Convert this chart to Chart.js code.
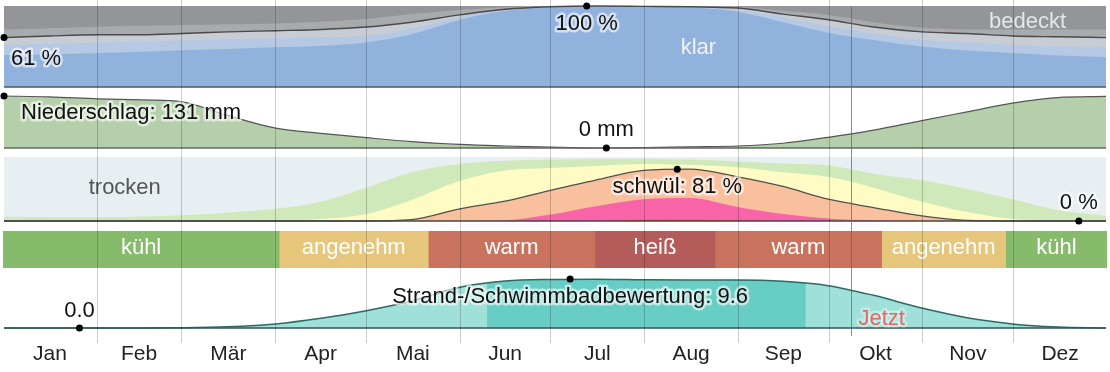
<!DOCTYPE html>
<html>
<head>
<meta charset="utf-8">
<script src="https://cdn.jsdelivr.net/npm/chart.js@4/dist/chart.umd.min.js"></script>
<style>
  html, body { margin: 0; padding: 0; background: #fff; }
  #wrap { position: relative; width: 1110px; height: 372px; overflow: hidden; }
  #wrap canvas { position: absolute; left: 0; }
</style>
</head>
<body>
<div id="wrap">
  <canvas id="cloud" width="1110" height="95" style="top:0px"></canvas>
  <canvas id="rain" width="1110" height="66" style="top:88px"></canvas>
  <canvas id="humid" width="1110" height="80" style="top:150px"></canvas>
  <canvas id="temp" width="1110" height="37" style="top:231px"></canvas>
  <canvas id="beach" width="1110" height="66" style="top:268px"></canvas>
  <canvas id="axis" width="1110" height="372" style="top:0px"></canvas>
</div>
<script>
const months = ["Jan", "Feb", "Mär", "Apr", "Mai", "Jun", "Jul", "Aug", "Sep", "Okt", "Nov", "Dez"];
const monthStarts = [0, 31, 59, 90, 120, 151, 181, 212, 243, 273, 304, 334, 365];
const sampleDays = [0, 15, 31, 46, 59, 74, 90, 105, 120, 135, 151, 166, 181, 196, 212, 227, 243, 258, 273, 288, 304, 319, 334, 349, 365];

// Bewölkung: kumulierte Anteile in % von unten
const cloudClear        = [39.5, 40.5, 42, 43.5, 45.5, 47, 49, 51, 55, 65, 83, 94, 98, 99, 99, 98, 93, 80, 67, 58, 50, 45, 42, 39, 37];
const cloudMostlyClear  = [52, 53, 55, 56, 57.5, 58.5, 60, 61.5, 63, 72, 86, 96, 99, 99.5, 99.5, 99, 95.5, 86, 75, 66, 58, 55, 52, 50, 49];
const cloudPartly       = [61, 63, 64.5, 64.5, 66, 68, 69.5, 71, 74, 80, 89, 96, 99, 100, 99.5, 99, 97.5, 90, 83, 74, 68, 66, 63, 62, 61];
const cloudMostlyCloudy = [71, 72.5, 74.5, 75.5, 76.5, 77.5, 78.5, 80.5, 84, 90, 95, 98.5, 100, 100, 100, 100, 99, 94, 89, 80, 73, 71, 71, 71, 71];
const cloudMarkDays = [0, 193];
const cloudMarkValues = [61, 100];

// Niederschlag in mm
const rainMm = [131, 129, 124, 121, 116, 82, 50, 37, 26, 16, 9, 5, 2, 0, 1, 3, 5, 12, 27, 45, 69, 91, 113, 127, 130];
const rainMarkDays = [0, 199.5];
const rainMarkValues = [131, 0];

// Schwüle: kumulierte Anteile in % von unten
const humidComfortable = [7, 6, 6, 7, 9, 13, 19, 30, 52, 76, 89, 94, 96, 97, 97, 96, 93, 90, 87, 74, 64, 50, 34, 17, 8];
const humidHumid       = [0, 0, 0, 0, 0, 0, 0.5, 3, 11, 33, 63, 79, 83, 86, 89, 88, 84, 76, 69, 52, 30, 14, 3, 0.5, 0];
const humidMuggy       = [0, 0, 0, 0, 0, 0, 0, 0, 0, 2, 19, 31, 48, 64, 79, 81, 69, 54, 34, 21, 8, 1, 0, 0, 0];
const humidOppressive  = [0, 0, 0, 0, 0, 0, 0, 0, 0, 0, 0, 1, 10, 23, 34, 36, 22, 11, 4, 1, 0, 0, 0, 0, 0];
const humidMiserable   = [0, 0, 0, 0, 0, 0, 0, 0, 0, 0, 0, 0, 0, 0, 2, 2, 1, 0, 0, 0, 0, 0, 0, 0, 0];
const muggyMarkDays = [223, 356];
const muggyMarkValues = [81, 0];

// Temperaturbänder
const tempNames = ["kühl", "angenehm", "warm", "heiß", "warm", "angenehm", "kühl"];
const tempBreaks = [0, 91.3, 140.6, 195.7, 235.4, 290.5, 331.5, 365];

// Strand-/Schwimmbadbewertung
const beachScore = [0, 0, 0, 0, 0.05, 0.25, 0.8, 1.9, 3.4, 5.3, 8.0, 9.2, 9.5, 9.55, 9.45, 9.4, 9.4, 9.15, 8.3, 6.4, 3.9, 2.0, 0.8, 0.2, 0];
const beachBest = [160, 265.5];
const beachMarkDays = [25, 187.5];
const beachMarkValues = [0, 9.6];

const nowDay = 280.5;

// styles
const FONT = '"Liberation Sans", Arial, sans-serif';
const cloudColors = { overcast: "#949599", mostlyCloudy: "#a8aaad", partly: "#c7ccd5", mostlyClear: "#b5c8e4", clear: "#92b2de", line: "#4a4a4a" };
const humidColors = { dry: "#e8eff3", comfortable: "#cfe9ba", humid: "#fffbc4", muggy: "#f9c09e", oppressive: "#f964a9", miserable: "#e5472c", line: "#505050" };
const tempColors = ["#87bb6c", "#e6c67a", "#c9735f", "#b45c59", "#c9735f", "#e6c67a", "#87bb6c"];
const HALO = "rgba(255,255,255,0.6)";

Chart.defaults.font.family = FONT;

const pts = (days, vals) => days.map((d, i) => ({ x: d, y: vals[i] }));

const fillSet = (vals, color) => ({
  data: pts(sampleDays, vals), backgroundColor: color, borderWidth: 0,
  fill: "origin", pointRadius: 0, clip: false
});
const lineSet = (vals, color, width) => ({
  data: pts(sampleDays, vals), borderColor: color, borderWidth: width,
  fill: false, pointRadius: 0, clip: false
});
const markSet = (days, vals) => ({
  data: pts(days, vals), showLine: false, pointRadius: 3.5,
  pointBackgroundColor: "#000", pointBorderWidth: 0, clip: false
});

function drawText(ctx, text, x, y, o) {
  ctx.save();
  ctx.font = (o.size || 22) + "px " + FONT;
  ctx.textAlign = o.align || "center";
  ctx.textBaseline = "middle";
  if (o.halo) {
    ctx.lineJoin = "round";
    ctx.lineWidth = 5;
    ctx.strokeStyle = o.halo;
    ctx.strokeText(text, x, y);
  }
  ctx.fillStyle = o.color || "#111";
  ctx.fillText(text, x, y);
  ctx.restore();
}

const decor = extra => ({
  id: "decor",
  beforeDatasetsDraw(chart) {
    if (!extra.background) return;
    const a = chart.chartArea;
    chart.ctx.save();
    chart.ctx.fillStyle = extra.background;
    chart.ctx.fillRect(a.left, a.top, a.right - a.left, a.bottom - a.top);
    chart.ctx.restore();
  },
  beforeDatasetDraw(chart, args) {
    if (args.index !== 0 || !extra.baseline) return;
    const a = chart.chartArea, y = chart.scales.y.getPixelForValue(0);
    const ctx = chart.ctx;
    ctx.save();
    ctx.strokeStyle = extra.baseline;
    ctx.lineWidth = 1.5;
    ctx.beginPath();
    ctx.moveTo(a.left, y);
    ctx.lineTo(a.right, y);
    ctx.stroke();
    ctx.restore();
  },
  afterDatasetDraw(chart, args) {
    if (extra.onDataset) extra.onDataset(chart, args);
  },
  afterDraw(chart) {
    const { x, y } = chart.scales;
    (extra.labels || []).forEach(l => {
      drawText(chart.ctx, l.text, x.getPixelForValue(l.day) + (l.dx || 0), y.getPixelForValue(l.value) + (l.dy || 0), l);
    });
  }
});

function panel(id, yMax, padTop, padBottom, datasets, extra) {
  return new Chart(document.getElementById(id), {
    type: "line",
    data: { datasets },
    options: {
      responsive: false, animation: false, devicePixelRatio: 1,
      layout: { padding: { left: 3, right: 3, top: padTop, bottom: padBottom } },
      plugins: { legend: { display: false }, tooltip: { enabled: false } },
      elements: { line: { cubicInterpolationMode: "monotone" } },
      scales: {
        x: { type: "linear", min: 0, max: 365, display: false },
        y: { min: 0, max: yMax, display: false }
      }
    },
    plugins: [decor(extra)]
  });
}

// Bewölkung
panel("cloud", 100, 6, 8, [
  markSet(cloudMarkDays, cloudMarkValues),
  lineSet(cloudPartly, cloudColors.line, 1.4),
  fillSet(cloudClear, cloudColors.clear),
  fillSet(cloudMostlyClear, cloudColors.mostlyClear),
  fillSet(cloudPartly, cloudColors.partly),
  fillSet(cloudMostlyCloudy, cloudColors.mostlyCloudy)
], {
  background: cloudColors.overcast,
  baseline: "#4d5a68",
  labels: [
    { text: "61 %", day: cloudMarkDays[0], value: cloudMarkValues[0], dx: 7, dy: 21, align: "left", halo: HALO },
    { text: "100 %", day: cloudMarkDays[1], value: cloudMarkValues[1], dy: 18, halo: HALO },
    { text: "klar", day: 230, value: 48, color: "#eef3fa" },
    { text: "bedeckt", day: 339, value: 80, color: "#e6e6e6" }
  ]
});

// Niederschlag
panel("rain", 131, 8, 6, [
  markSet(rainMarkDays, rainMarkValues),
  Object.assign(fillSet(rainMm, "#b4cfa9"), { borderColor: "#555", borderWidth: 1.2 })
], {
  baseline: "#666",
  labels: [
    { text: "Niederschlag: 131 mm", day: rainMarkDays[0], value: rainMarkValues[0], dx: 17, dy: 17, align: "left", halo: HALO },
    { text: "0 mm", day: rainMarkDays[1], value: rainMarkValues[1], dy: -18, halo: HALO }
  ]
});

// Schwüle
panel("humid", 100, 7, 9, [
  markSet(muggyMarkDays, muggyMarkValues),
  lineSet(humidMuggy, humidColors.line, 1.3),
  fillSet(humidMiserable, humidColors.miserable),
  fillSet(humidOppressive, humidColors.oppressive),
  fillSet(humidMuggy, humidColors.muggy),
  fillSet(humidHumid, humidColors.humid),
  fillSet(humidComfortable, humidColors.comfortable)
], {
  background: humidColors.dry,
  baseline: "#444",
  labels: [
    { text: "trocken", day: 40, value: 52, color: "#555" },
    { text: "schwül: 81 %", day: muggyMarkDays[0], value: muggyMarkValues[0], dy: 18, halo: HALO },
    { text: "0 %", day: muggyMarkDays[1], value: muggyMarkValues[1], dy: -18, halo: HALO }
  ]
});

// Temperaturbänder
new Chart(document.getElementById("temp"), {
  type: "bar",
  data: {
    labels: ["T"],
    datasets: tempNames.map((name, i) => ({
      label: name,
      data: [[tempBreaks[i], tempBreaks[i + 1]]],
      backgroundColor: tempColors[i],
      borderWidth: 0, grouped: false, barPercentage: 1, categoryPercentage: 1
    }))
  },
  options: {
    indexAxis: "y",
    responsive: false, animation: false, devicePixelRatio: 1,
    layout: { padding: { left: 3, right: 3, top: 0, bottom: 0 } },
    plugins: { legend: { display: false }, tooltip: { enabled: false } },
    scales: {
      x: { type: "linear", min: 0, max: 365, display: false },
      y: { display: false }
    }
  },
  plugins: [{
    id: "bandText",
    afterDatasetsDraw(chart) {
      chart.data.datasets.forEach((ds, i) => {
        const bar = chart.getDatasetMeta(i).data[0];
        drawText(chart.ctx, ds.label, (bar.x + bar.base) / 2, bar.y - 2, { color: "#fff" });
      });
    }
  }]
});

// Strand-/Schwimmbadbewertung
panel("beach", 9.6, 11, 6, [
  markSet(beachMarkDays, beachMarkValues),
  lineSet(beachScore, "#2e6a65", 1.5),
  fillSet(beachScore, "#68cdc5"),
  fillSet(beachScore, "#9fe0d8")
], {
  baseline: "#2f5854",
  onDataset(chart, args) {
    const ctx = chart.ctx;
    if (args.index === 3) {
      const x = chart.scales.x;
      const a = chart.chartArea;
      const x0 = x.getPixelForValue(beachBest[0]), x1 = x.getPixelForValue(beachBest[1]);
      ctx.save();
      ctx.beginPath();
      ctx.rect(x0, a.top - 5, x1 - x0, a.bottom - a.top + 10);
      ctx.clip();
    } else if (args.index === 2) {
      ctx.restore();
    }
  },
  labels: [
    { text: "0.0", day: beachMarkDays[0], value: beachMarkValues[0], dy: -17, halo: HALO },
    { text: "Strand-/Schwimmbadbewertung: 9.6", day: beachMarkDays[1], value: beachMarkValues[1], dy: 18, halo: HALO }
  ]
});

// Monatsachse, Gitterlinien und "Jetzt"
new Chart(document.getElementById("axis"), {
  type: "line",
  data: { datasets: [] },
  options: {
    responsive: false, animation: false, devicePixelRatio: 1,
    layout: { padding: { left: 3, right: 3, top: 0, bottom: 5 } },
    plugins: { legend: { display: false }, tooltip: { enabled: false } },
    scales: {
      x: {
        type: "linear", min: 0, max: 365,
        grid: { display: false, drawTicks: false },
        border: { display: false },
        afterBuildTicks: s => { s.ticks = months.map((m, i) => ({ value: (monthStarts[i] + monthStarts[i + 1]) / 2 })); },
        ticks: {
          autoSkip: false, maxRotation: 0, padding: 0, color: "#222",
          font: { size: 21, family: FONT },
          callback: (v, i) => months[i]
        }
      },
      y: { display: false, min: 0, max: 1 }
    }
  },
  plugins: [{
    id: "gridLines",
    afterDraw(chart) {
      const ctx = chart.ctx, x = chart.scales.x;
      ctx.save();
      ctx.strokeStyle = "rgba(0,0,0,0.2)";
      ctx.lineWidth = 1;
      monthStarts.slice(1, -1).forEach(d => {
        const px = Math.round(x.getPixelForValue(d)) + 0.5;
        ctx.beginPath();
        ctx.moveTo(px, 0);
        ctx.lineTo(px, 343);
        ctx.stroke();
      });
      const nx = Math.round(x.getPixelForValue(nowDay)) + 0.5;
      ctx.strokeStyle = "rgba(225,50,50,0.75)";
      ctx.beginPath();
      ctx.moveTo(nx, 6);
      ctx.lineTo(nx, 336);
      ctx.stroke();
      ctx.restore();
      drawText(ctx, "Jetzt", nx + 7, 319, { align: "left", color: "#e06a6a", halo: "rgba(255,255,255,0.35)" });
    }
  }]
});
</script>
</body>
</html>
